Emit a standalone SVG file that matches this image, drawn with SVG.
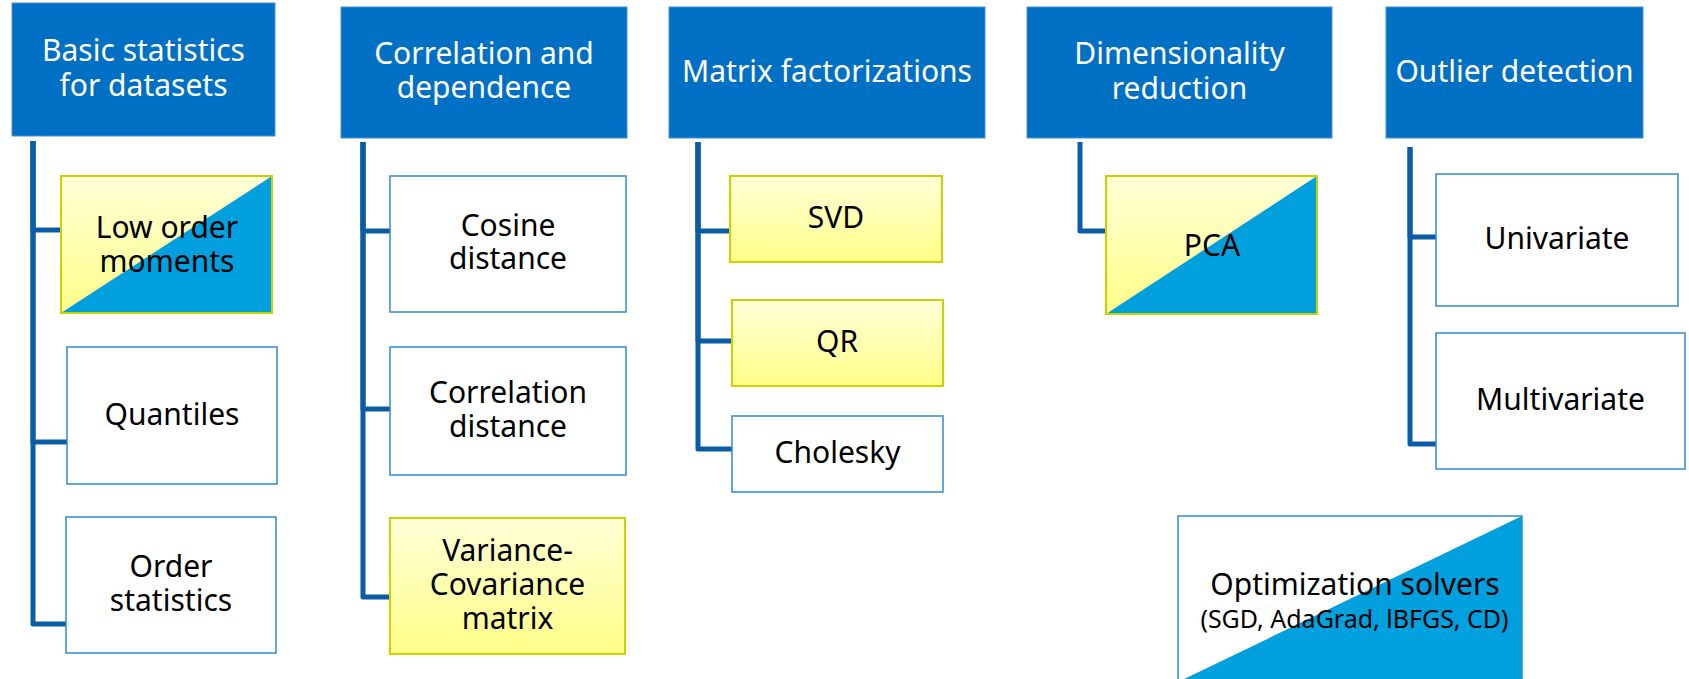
<svg xmlns="http://www.w3.org/2000/svg" width="1689" height="679" viewBox="0 0 1689 679">
  <defs>
    <linearGradient id="yellow" x1="0" y1="0" x2="0" y2="1">
      <stop offset="0" stop-color="#FFFFD8"/>
      <stop offset="1" stop-color="#FFFF88"/>
    </linearGradient>
    <style>
      .hdr { fill: #0070C4; stroke: #4A90D9; stroke-width: 1; }
      .hdr-t { font-family: "Noto Sans", "Open Sans", sans-serif; font-size: 30px; fill: #FFFFFF; text-anchor: middle; }
      .box { fill: #FFFFFF; stroke: #2F8AD6; stroke-width: 1.5; }
      .ybox { fill: url(#yellow); stroke: #C8D400; stroke-width: 2; }
      .blue-tri { fill: #009FDD; }
      .frame-y { fill: none; stroke: #C8D400; stroke-width: 2; }
      .frame-b { fill: none; stroke: #2F8AD6; stroke-width: 1.5; }
      .t { font-family: "Noto Sans", "Open Sans", sans-serif; font-size: 30px; fill: #000000; text-anchor: middle; }
      .t-small { font-family: "Noto Sans", "Open Sans", sans-serif; font-size: 25px; fill: #000000; text-anchor: middle; }
      .conn { fill: none; stroke: #0A5CA3; stroke-width: 5; stroke-linejoin: round; stroke-linecap: butt; }
    </style>
  </defs>

  <!-- connectors: elbow lines from each category header to its items -->
  <g id="connectors">
    <path class="conn" d="M33,141 V230 H61"/>
    <path class="conn" d="M33,141 V442 H67"/>
    <path class="conn" d="M33,141 V624 H66"/>

    <path class="conn" d="M363,142 V231 H390"/>
    <path class="conn" d="M363,142 V409 H390"/>
    <path class="conn" d="M363,142 V597 H390"/>

    <path class="conn" d="M698,142 V231 H730"/>
    <path class="conn" d="M698,142 V341 H732"/>
    <path class="conn" d="M698,142 V449 H732"/>

    <path class="conn" d="M1080,142 V231 H1106"/>

    <path class="conn" d="M1410,147 V237 H1436"/>
    <path class="conn" d="M1410,147 V444 H1436"/>
  </g>

  <!-- category headers -->
  <g id="hdr-basic">
    <rect class="hdr" x="12" y="3" width="263" height="133"/>
    <text class="hdr-t" x="143.5" y="61">Basic statistics</text>
    <text class="hdr-t" x="143.5" y="96">for datasets</text>
  </g>
  <g id="hdr-correlation">
    <rect class="hdr" x="341" y="7" width="286" height="131"/>
    <text class="hdr-t" x="484" y="64">Correlation and</text>
    <text class="hdr-t" x="484" y="98">dependence</text>
  </g>
  <g id="hdr-matrix">
    <rect class="hdr" x="669" y="7" width="316" height="131"/>
    <text class="hdr-t" x="827" y="82">Matrix factorizations</text>
  </g>
  <g id="hdr-dimred">
    <rect class="hdr" x="1027" y="7" width="305" height="131"/>
    <text class="hdr-t" x="1179.5" y="64">Dimensionality</text>
    <text class="hdr-t" x="1179.5" y="99">reduction</text>
  </g>
  <g id="hdr-outlier">
    <rect class="hdr" x="1386" y="7" width="257" height="131"/>
    <text class="hdr-t" x="1514.5" y="82">Outlier detection</text>
  </g>

  <!-- basic statistics items -->
  <g id="low-order-moments">
    <rect class="ybox" x="61" y="176" width="211" height="137"/>
    <polygon class="blue-tri" points="272,176 272,313 61,313"/>
    <rect class="frame-y" x="61" y="176" width="211" height="137"/>
    <text class="t" x="167" y="238">Low order</text>
    <text class="t" x="167" y="272">moments</text>
  </g>
  <g id="quantiles">
    <rect class="box" x="67" y="347" width="210" height="137"/>
    <text class="t" x="172" y="425">Quantiles</text>
  </g>
  <g id="order-statistics">
    <rect class="box" x="66" y="517" width="210" height="136"/>
    <text class="t" x="171" y="577">Order</text>
    <text class="t" x="171" y="611">statistics</text>
  </g>

  <!-- correlation items -->
  <g id="cosine-distance">
    <rect class="box" x="390" y="176" width="236" height="136"/>
    <text class="t" x="508" y="236">Cosine</text>
    <text class="t" x="508" y="269">distance</text>
  </g>
  <g id="correlation-distance">
    <rect class="box" x="390" y="347" width="236" height="128"/>
    <text class="t" x="508" y="403">Correlation</text>
    <text class="t" x="508" y="437">distance</text>
  </g>
  <g id="variance-covariance">
    <rect class="ybox" x="390" y="518" width="235" height="136"/>
    <text class="t" x="507.5" y="561">Variance-</text>
    <text class="t" x="507.5" y="595">Covariance</text>
    <text class="t" x="507.5" y="629">matrix</text>
  </g>

  <!-- matrix factorization items -->
  <g id="svd">
    <rect class="ybox" x="730" y="176" width="212" height="86"/>
    <text class="t" x="836" y="228">SVD</text>
  </g>
  <g id="qr">
    <rect class="ybox" x="732" y="300" width="211" height="86"/>
    <text class="t" x="837" y="352">QR</text>
  </g>
  <g id="cholesky">
    <rect class="box" x="732" y="416" width="211" height="76"/>
    <text class="t" x="837.5" y="463">Cholesky</text>
  </g>

  <!-- dimensionality reduction item -->
  <g id="pca">
    <rect class="ybox" x="1106" y="176" width="211" height="138"/>
    <polygon class="blue-tri" points="1317,176 1317,314 1106,314"/>
    <rect class="frame-y" x="1106" y="176" width="211" height="138"/>
    <text class="t" x="1212" y="256">PCA</text>
  </g>

  <!-- outlier detection items -->
  <g id="univariate">
    <rect class="box" x="1436" y="174" width="242" height="132"/>
    <text class="t" x="1557" y="249">Univariate</text>
  </g>
  <g id="multivariate">
    <rect class="box" x="1436" y="333" width="249" height="136"/>
    <text class="t" x="1560.5" y="410">Multivariate</text>
  </g>

  <!-- optimization solvers -->
  <g id="optimization-solvers">
    <rect x="1178" y="516" width="344" height="166" fill="#FFFFFF"/>
    <polygon class="blue-tri" points="1522,516 1522,682 1178,682"/>
    <rect class="frame-b" x="1178" y="516" width="344" height="166"/>
    <text class="t" x="1355" y="595">Optimization solvers</text>
    <text class="t-small" x="1354.5" y="628">(SGD, AdaGrad, lBFGS, CD)</text>
  </g>
</svg>
